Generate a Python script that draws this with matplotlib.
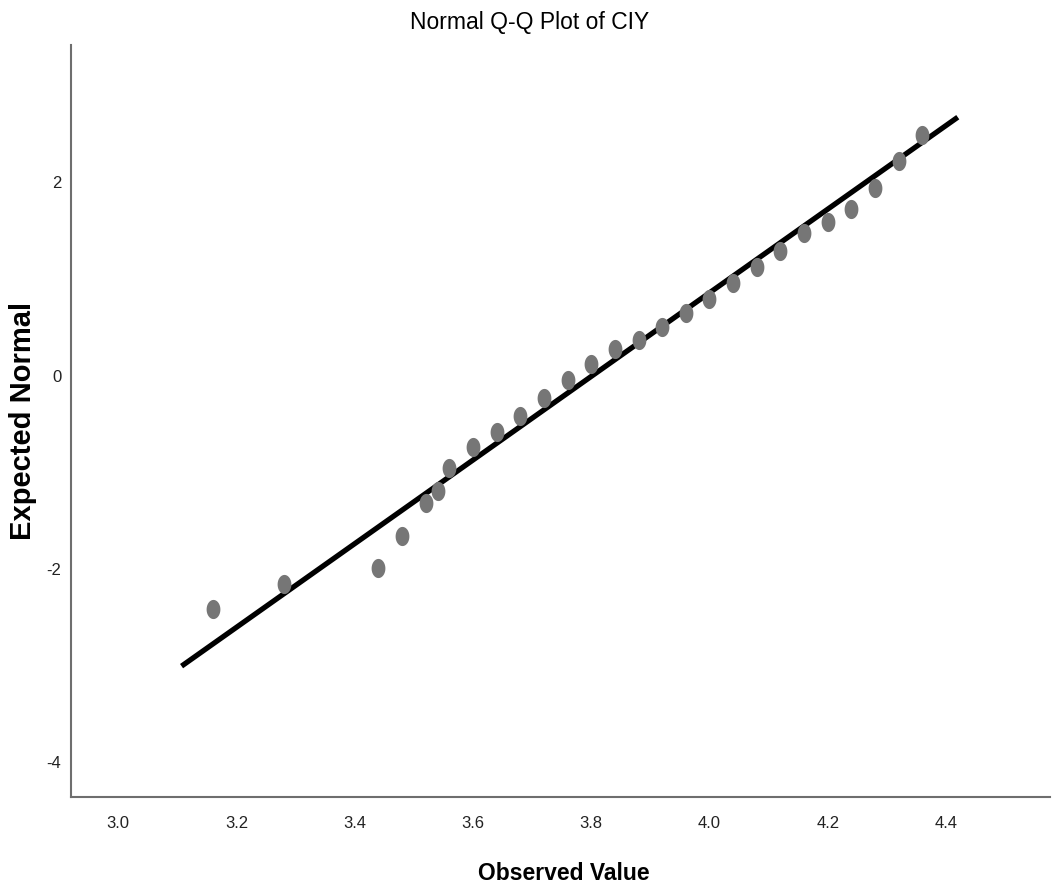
import matplotlib
matplotlib.use("Agg")
import matplotlib.pyplot as plt
import numpy as np
from matplotlib.path import Path
from matplotlib import font_manager

names = {f.name for f in font_manager.fontManager.ttflist}
narrow = 'Liberation Sans Narrow' if 'Liberation Sans Narrow' in names else 'Liberation Sans'

# Data
observed = [3.16, 3.28, 3.44, 3.48, 3.52, 3.54, 3.56, 3.60, 3.64, 3.68, 3.72, 3.76,
            3.80, 3.84, 3.88, 3.92, 3.96, 4.00, 4.04, 4.08, 4.12, 4.16, 4.20, 4.24,
            4.28, 4.32, 4.36]
expected = [-2.42, -2.16, -1.99, -1.66, -1.32, -1.19, -0.96, -0.74, -0.58, -0.42,
            -0.23, -0.05, 0.12, 0.27, 0.37, 0.50, 0.65, 0.79, 0.96, 1.12, 1.29,
            1.47, 1.59, 1.72, 1.94, 2.22, 2.49]
line_x = [3.107, 4.42]
mean_val = 3.802
sd_val = 0.2312
x_ticks = [3.0, 3.2, 3.4, 3.6, 3.8, 4.0, 4.2, 4.4]
y_ticks = [-4, -2, 0, 2]

fig = plt.figure(figsize=(10.52, 8.92), dpi=100)
ax = fig.add_axes([71/1052, 95/892, 979/1052, 752/892])

line_y = [(v - mean_val) / sd_val for v in line_x]
ax.plot(line_x, line_y, color='black', lw=3.8, solid_capstyle='butt', zorder=2)

t = np.linspace(0, 2*np.pi, 60)
ell = Path(np.column_stack([0.72*np.cos(t), np.sin(t)]), closed=True)
ax.scatter(observed, expected, marker=ell, s=190, color='#767676', linewidths=0, zorder=3)

ax.set_xlim(2.92, 4.576)
ax.set_ylim(-4.36, 3.42)
ax.set_xticks(x_ticks)
ax.set_xticklabels([f"{v:.1f}" for v in x_ticks], family=[narrow, 'DejaVu Sans'], fontsize=12)
ax.set_yticks(y_ticks)
ax.set_yticklabels([str(v) for v in y_ticks], family=[narrow, 'DejaVu Sans'], fontsize=12)
ax.tick_params(length=0, pad=14, colors='#222222')
ax.tick_params(axis='y', pad=7)

for s in ['top', 'right']:
    ax.spines[s].set_visible(False)
for s in ['left', 'bottom']:
    ax.spines[s].set_color('#6e6e6e')
    ax.spines[s].set_linewidth(1.5)

fig.text(530/1052, 1 - 22/892, "Normal Q-Q Plot of CIY", ha='center', va='center',
         fontsize=16.5, family=[narrow, 'DejaVu Sans'], color='black')
fig.text(564/1052, 1 - 873/892, "Observed Value", ha='center', va='center',
         fontsize=16.5, family=[narrow, 'DejaVu Sans'], fontweight='bold', color='black')
fig.text(23/1052, 1 - 421/892, "Expected Normal", ha='center', va='center', rotation=90,
         fontsize=21, family=['Liberation Sans', 'DejaVu Sans'], fontweight='bold', color='black')

fig.savefig("out.png", dpi=100)
